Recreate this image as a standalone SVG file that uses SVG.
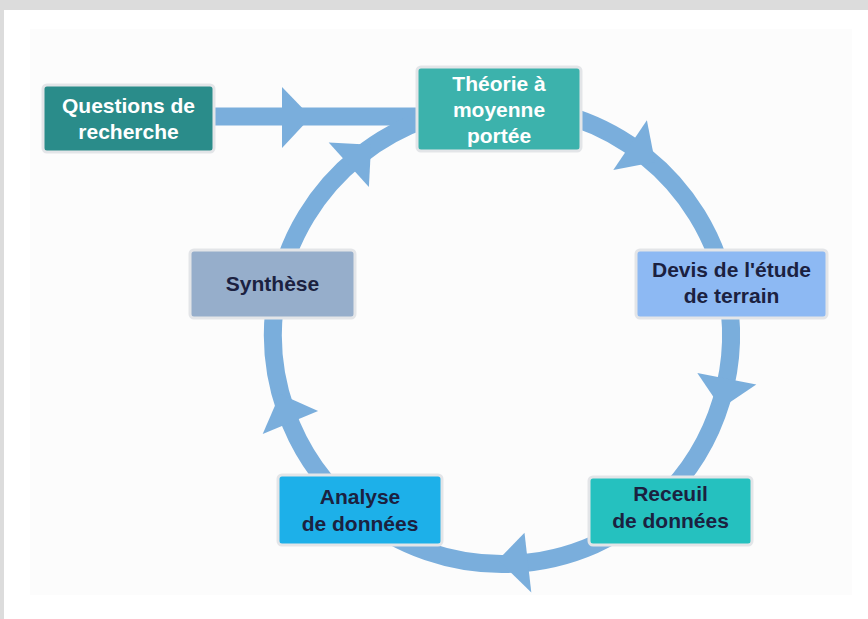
<svg xmlns="http://www.w3.org/2000/svg" width="868" height="619" viewBox="0 0 868 619">
<style>
.band{fill:none;stroke:#7aaedc;stroke-width:18;stroke-linecap:butt}
.head{fill:#7aaedc}
.box{stroke:#e3e5e8;stroke-width:3}
.t{font-family:"Liberation Sans",Arial,Helvetica,sans-serif;font-weight:bold;font-size:21px;text-anchor:middle}
.w{fill:#ffffff}
.d{fill:#1b2140}
</style>
<rect x="0" y="0" width="868" height="619" fill="#ffffff"/>
<rect x="0" y="0" width="868" height="10" fill="#dcdcdc"/>
<rect x="0" y="0" width="4" height="619" fill="#dcdcdc"/>
<rect x="30" y="29" width="822" height="566" fill="#fcfcfc"/>

<g id="connectors">
  <path class="band" d="M215 116.5 H420"/>
  <polygon class="head" points="282,87 311,117 282,148"/>
  <path class="band" d="M502 106 A229 229 0 0 1 725.2 283.9"/>
  <polygon class="head" points="646.9,120.2 655,161.9 613.3,170"/>
  <path class="band" d="M725.2 283.9 A229 229 0 0 1 660.2 500.6"/>
  <polygon class="head" points="756.3,384.4 721.1,408.2 697.3,373"/>
  <path class="band" d="M660.2 500.6 A229 229 0 0 1 357.9 513"/>
  <polygon class="head" points="531.3,592.4 498,560 524.5,532.8"/>
  <path class="band" d="M357.9 513 A229 229 0 0 1 278.4 285.4"/>
  <polygon class="head" points="262.7,434.1 280,394 318.1,411.1"/>
  <path class="band" d="M278.4 285.4 A229 229 0 0 1 502 106"/>
  <polygon class="head" points="328.7,142.5 371.1,144.7 368.9,187.1"/>
</g>

<g id="questions">
  <rect class="box" x="43" y="85" width="171" height="67" rx="4" fill="#2a8c8a"/>
  <text class="t w" x="128.5" y="112.5">Questions de</text>
  <text class="t w" x="128.5" y="138.5">recherche</text>
</g>

<g id="theorie">
  <rect class="box" x="417" y="67" width="164" height="84" rx="4" fill="#3cb2ac"/>
  <text class="t w" x="499" y="91">Théorie à</text>
  <text class="t w" x="499" y="117">moyenne</text>
  <text class="t w" x="499" y="143">portée</text>
</g>

<g id="devis">
  <rect class="box" x="636" y="250" width="191" height="68" rx="4" fill="#8db9f3"/>
  <text class="t d" x="731.5" y="277">Devis de l'étude</text>
  <text class="t d" x="731.5" y="303">de terrain</text>
</g>

<g id="receuil">
  <rect class="box" x="589" y="477" width="163" height="68" rx="4" fill="#25c1bf"/>
  <text class="t d" x="670.5" y="501">Receuil</text>
  <text class="t d" x="670.5" y="528">de données</text>
</g>

<g id="analyse">
  <rect class="box" x="278" y="475" width="164" height="70" rx="4" fill="#1db0e9"/>
  <text class="t d" x="360" y="504">Analyse</text>
  <text class="t d" x="360" y="531">de données</text>
</g>

<g id="synthese">
  <rect class="box" x="190" y="250" width="165" height="68" rx="4" fill="#96aecb"/>
  <text class="t d" x="272.5" y="291">Synthèse</text>
</g>
</svg>
